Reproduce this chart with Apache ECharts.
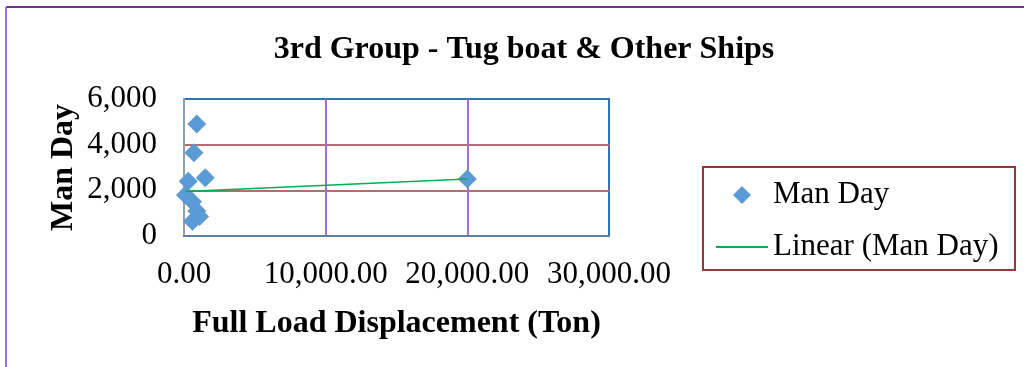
<!DOCTYPE html>
<html>
<head>
<meta charset="utf-8">
<script src="https://cdn.jsdelivr.net/npm/echarts@6/dist/echarts.min.js"></script>
<style>
  html, body { margin: 0; padding: 0; background: #ffffff; }
  #chart { width: 1024px; height: 367px; }
</style>
</head>
<body>
<div id="chart"></div>
<script>
// Full load displacement (ton) and man-days for each vessel in the group
const displacement = [100, 300, 1500, 600, 900, 1100, 600, 700, 900, 20000];
const manDay = [1800, 2400, 2550, 1500, 1100, 850, 650, 3650, 4900, 2500];

// Linear trend endpoints (displacement, man-day)
const trendX = [100, 20000];
const trendY = [1950, 2500];

// Axis ticks
const xTicks = [0, 10000, 20000, 30000];
const yTicks = [0, 2000, 4000, 6000];

const FONT = '"Liberation Serif", "Times New Roman", serif';
const DIAMOND = 'path://M0,-1L1,0L0,1L-1,0Z';

const points = displacement.map((x, i) => [x, manDay[i]]);
const trend = trendX.map((x, i) => [x, trendY[i]]);

const fmtX = v => v.toLocaleString('en-US', { minimumFractionDigits: 2, maximumFractionDigits: 2 });
const fmtY = v => v.toLocaleString('en-US');

const chart = echarts.init(document.getElementById('chart'), null, { renderer: 'canvas' });

chart.setOption({
  animation: false,
  backgroundColor: '#ffffff',
  title: {
    text: '3rd Group - Tug boat & Other Ships',
    left: 519,
    textAlign: 'center',
    top: 29,
    textStyle: { fontFamily: FONT, fontSize: 32, fontWeight: 'bold', color: '#000000' }
  },
  grid: {
    left: 184, right: 415, top: 99, bottom: 131,
    show: true,
    borderColor: '#2e75b6',
    borderWidth: 2,
    backgroundColor: 'transparent'
  },
  legend: {
    orient: 'vertical',
    left: 715,
    top: 177,
    padding: 0,
    itemWidth: 52,
    itemHeight: 18,
    itemGap: 16,
    textStyle: { fontFamily: FONT, fontSize: 31, color: '#000000', lineHeight: 36 },
    data: [
      { name: 'Man Day', icon: DIAMOND },
      { name: 'Linear (Man Day)', itemStyle: { opacity: 0 } }
    ]
  },
  xAxis: {
    type: 'value',
    min: xTicks[0],
    max: xTicks[xTicks.length - 1],
    interval: xTicks[1] - xTicks[0],
    name: 'Full Load Displacement (Ton)',
    nameLocation: 'middle',
    nameGap: 72,
    nameTextStyle: { fontFamily: FONT, fontSize: 32, fontWeight: 'bold', color: '#000000' },
    axisLine: { show: true, onZero: false, lineStyle: { color: '#5f7f9a', width: 2 } },
    axisTick: { show: false },
    axisLabel: { formatter: fmtX, fontFamily: FONT, fontSize: 31, color: '#000000', margin: 23 },
    splitLine: { show: true, showMinLine: false, showMaxLine: false, lineStyle: { color: '#a070c8', width: 2 } }
  },
  yAxis: {
    type: 'value',
    min: yTicks[0],
    max: yTicks[yTicks.length - 1],
    interval: yTicks[1] - yTicks[0],
    name: 'Man Day',
    nameLocation: 'middle',
    nameGap: 104,
    nameTextStyle: { fontFamily: FONT, fontSize: 32, fontWeight: 'bold', color: '#000000' },
    axisLine: { show: true, onZero: false, lineStyle: { color: '#8fa0b0', width: 2 } },
    axisTick: { show: false },
    axisLabel: { formatter: fmtY, fontFamily: FONT, fontSize: 31, color: '#000000', margin: 27 },
    splitLine: { show: true, showMinLine: false, showMaxLine: false, lineStyle: { color: '#b46c6c', width: 2 } }
  },
  series: [
    {
      name: 'Man Day',
      type: 'scatter',
      symbol: 'diamond',
      symbolSize: 19,
      symbolKeepAspect: true,
      itemStyle: { color: '#5b9bd5', opacity: 1 },
      data: points,
      z: 3
    },
    {
      name: 'Linear (Man Day)',
      type: 'line',
      showSymbol: false,
      symbol: 'none',
      lineStyle: { color: '#00b050', width: 1.5 },
      itemStyle: { color: '#00b050' },
      data: trend,
      z: 4
    }
  ],
  graphic: [
    // legend frame
    {
      type: 'rect',
      shape: { x: 703, y: 167, width: 312, height: 103 },
      style: { fill: 'none', stroke: '#953735', lineWidth: 2 },
      silent: true
    },
    // outer chart frame (top and left edges)
    {
      type: 'line',
      shape: { x1: 6, y1: 7, x2: 1024, y2: 7 },
      style: { stroke: '#7030a0', lineWidth: 2 },
      silent: true
    },
    {
      type: 'line',
      shape: { x1: 6, y1: 7, x2: 6, y2: 367 },
      style: { stroke: '#9a70d0', lineWidth: 2 },
      silent: true
    }
  ]
});
</script>
</body>
</html>
